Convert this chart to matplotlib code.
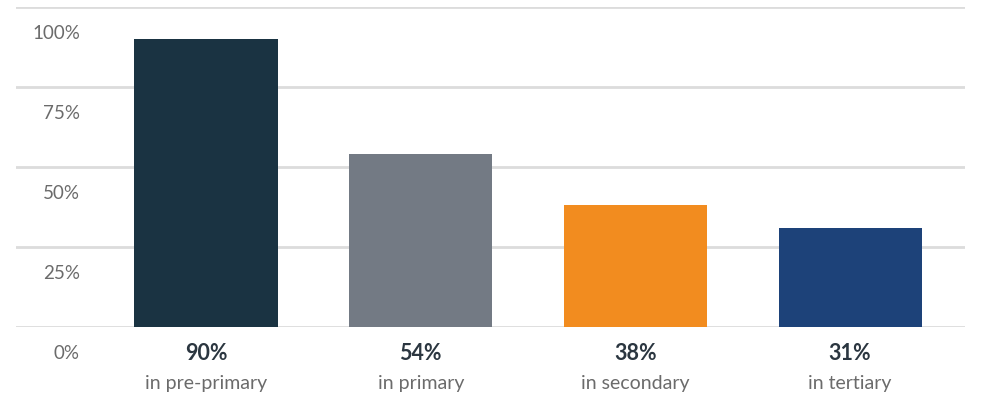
import matplotlib
matplotlib.use("Agg")
import matplotlib.pyplot as plt
from matplotlib.transforms import ScaledTranslation

categories = ["in pre-primary", "in primary", "in secondary", "in tertiary"]
values = [90, 54, 38, 31]
value_labels = ["90%", "54%", "38%", "31%"]
ytick_values = [0, 25, 50, 75, 100]
ytick_labels = ["0%", "25%", "50%", "75%", "100%"]
colors = ["#1a3342", "#737a84", "#f28c1f", "#1d4279"]

plt.rcParams['font.family'] = ['Lato', 'DejaVu Sans']

fig = plt.figure(figsize=(9.93, 3.98), dpi=100)
ax = fig.add_axes([16/993, 71/398, (965-16)/993, (327-7)/398])

x = list(range(len(categories)))
ax.bar(x, values, width=0.667, color=colors, zorder=3)
ax.set_xlim(-0.885, 3.535)
ax.set_ylim(0, 100)

ax.set_yticks(ytick_values)
ax.set_yticklabels(ytick_labels, fontsize=13.5, color="#6b6b6b")
ax.tick_params(axis='y', length=0, pad=0)
ax.grid(axis='y', color="#dcdcdc", linewidth=2, zorder=0)
for lab in ax.get_yticklabels():
    lab.set_transform(lab.get_transform() + ScaledTranslation(0.64, -0.25, fig.dpi_scale_trans))

ax.set_xticks([])
for s in ax.spines.values():
    s.set_visible(False)

for i, (v, c) in enumerate(zip(value_labels, categories)):
    ax.annotate(v, xy=(i, 0), xycoords='data', xytext=(0, -19), textcoords='offset points',
                ha='center', va='center', fontsize=15.5, fontweight='bold', color="#2b3640")
    ax.annotate(c, xy=(i, 0), xycoords='data', xytext=(0, -41), textcoords='offset points',
                ha='center', va='center', fontsize=14, color="#6b6b6b")

fig.savefig("out.png", dpi=100)
